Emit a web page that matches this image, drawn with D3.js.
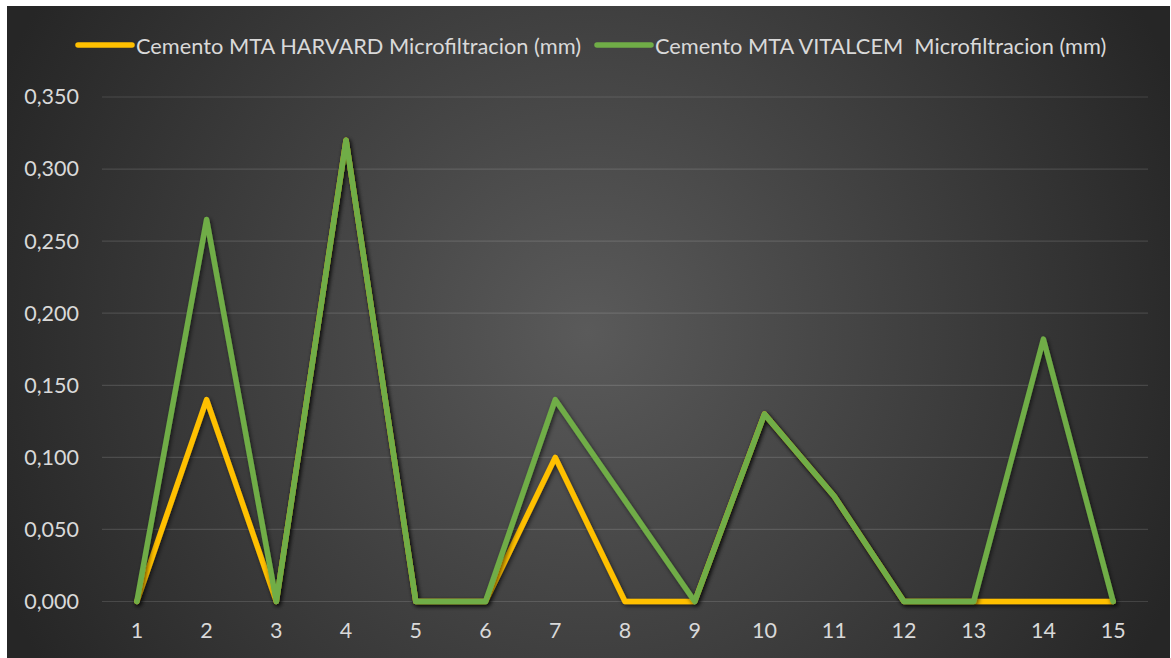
<!DOCTYPE html>
<html>
<head>
<meta charset="utf-8">
<script src="https://cdn.jsdelivr.net/npm/d3@7"></script>
<style>
  html, body { margin: 0; padding: 0; background: #ffffff; }
  svg { display: block; }
  text { font-family: Lato, "Open Sans", sans-serif; fill: #d9d9d9; white-space: pre; }
</style>
</head>
<body>
<svg id="chart" width="1171" height="658"></svg>
<script>
// Sample numbers along the x axis
const categories = ["1","2","3","4","5","6","7","8","9","10","11","12","13","14","15"];

// Microfiltration (mm) for each cement
const harvard  = [0, 0.140, 0, 0.320, 0, 0, 0.100, 0, 0, 0.130, 0.073, 0, 0, 0, 0];
const vitalcem = [0, 0.265, 0, 0.320, 0, 0, 0.140, 0.070, 0, 0.130, 0.073, 0, 0, 0.182, 0];

const seriesNames = [
  "Cemento MTA HARVARD Microfiltracion (mm)",
  "Cemento MTA VITALCEM  Microfiltracion (mm)"
];
const seriesColors = ["#FFC000", "#70AD47"];

const yTicks = [0, 0.05, 0.10, 0.15, 0.20, 0.25, 0.30, 0.35];

const W = 1171, H = 658;
const svg = d3.select("#chart");
const defs = svg.append("defs");

// Dark radial background
const grad = defs.append("radialGradient")
  .attr("id", "bg").attr("gradientUnits", "userSpaceOnUse")
  .attr("cx", 588).attr("cy", 332).attr("r", 640);
grad.append("stop").attr("offset", "0%").attr("stop-color", "#5a5a5a");
grad.append("stop").attr("offset", "100%").attr("stop-color", "#262626");

const shadow = defs.append("filter").attr("id", "shadow")
  .attr("x", "-10%").attr("y", "-10%").attr("width", "120%").attr("height", "120%");
shadow.append("feDropShadow")
  .attr("dx", 1.5).attr("dy", 2).attr("stdDeviation", 2)
  .attr("flood-color", "#000").attr("flood-opacity", 0.6);

svg.append("rect").attr("x", 7).attr("y", 6)
  .attr("width", W - 8).attr("height", H - 6)
  .attr("fill", "url(#bg)");

const plot = { left: 102, right: 1148, top: 97, bottom: 601.5 };

const x = d3.scaleBand().domain(categories).range([plot.left, plot.right]);
const y = d3.scaleLinear().domain([0, 0.35]).range([plot.bottom, plot.top]);

const fmt = d => d3.format(".3f")(d).replace(".", ",");

// Horizontal gridlines
svg.append("g")
  .selectAll("line").data(yTicks).join("line")
  .attr("x1", plot.left).attr("x2", plot.right)
  .attr("y1", d => y(d)).attr("y2", d => y(d))
  .attr("stroke", "#ffffff").attr("stroke-opacity", 0.13).attr("stroke-width", 1.2);

// Y axis labels
const yAxis = svg.append("g")
  .attr("transform", `translate(${plot.left},0)`)
  .call(d3.axisLeft(y).tickValues(yTicks).tickFormat(fmt).tickSize(0).tickPadding(23));
yAxis.select(".domain").remove();
yAxis.selectAll("text")
  .attr("fill", "#d9d9d9").style("font-size", "21.5px")
  .style("font-family", "Lato, 'Open Sans', sans-serif");

// X axis labels
const xAxis = svg.append("g")
  .attr("transform", `translate(0,${plot.bottom})`)
  .call(d3.axisBottom(x).tickSize(0).tickPadding(21));
xAxis.select(".domain").remove();
xAxis.selectAll("text")
  .attr("fill", "#d9d9d9").style("font-size", "21.5px")
  .style("font-family", "Lato, 'Open Sans', sans-serif");

// Lines
const line = d3.line()
  .x((d, i) => x(categories[i]) + x.bandwidth() / 2)
  .y(d => y(d));

[harvard, vitalcem].forEach((vals, k) => {
  svg.append("path")
    .datum(vals)
    .attr("d", line)
    .attr("fill", "none")
    .attr("stroke", seriesColors[k])
    .attr("stroke-width", 5.5)
    .attr("stroke-linejoin", "round")
    .attr("stroke-linecap", "round")
    .attr("filter", "url(#shadow)");
});

// Legend
const legendItems = [
  { x0: 78, tx: 136 },
  { x0: 597, tx: 655 }
];
const legend = svg.append("g");
legendItems.forEach((it, k) => {
  legend.append("line")
    .attr("x1", it.x0).attr("x2", it.x0 + 54)
    .attr("y1", 45).attr("y2", 45)
    .attr("stroke", seriesColors[k]).attr("stroke-width", 5.5)
    .attr("stroke-linecap", "round");
  legend.append("text")
    .attr("x", it.tx).attr("y", 45)
    .attr("dominant-baseline", "central")
    .attr("xml:space", "preserve")
    .style("font-size", "21.8px")
    .text(seriesNames[k]);
});
</script>
</body>
</html>
